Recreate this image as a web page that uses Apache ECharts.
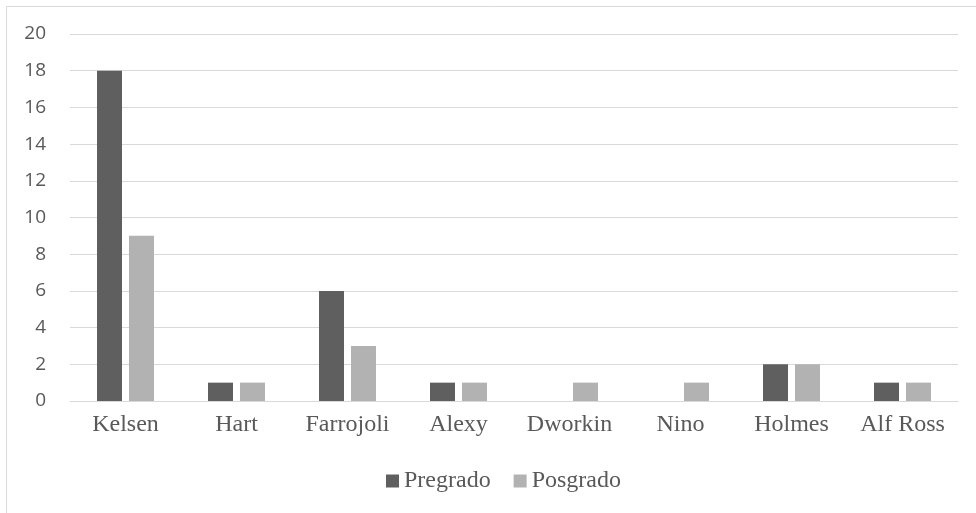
<!DOCTYPE html>
<html><head><meta charset="utf-8">
<script src="https://cdn.jsdelivr.net/npm/echarts@6/dist/echarts.min.js"></script>
<style>html,body{margin:0;padding:0;background:#fff}#c{width:976px;height:513px}</style>
</head><body><div id="c"></div>
<script>
const categories = ['Kelsen','Hart','Farrojoli','Alexy','Dworkin','Nino','Holmes','Alf Ross'];
const pregrado = [18,1,6,1,0,0,2,1];
const posgrado = [9,1,3,1,1,1,2,1];
const seriesNames = ['Pregrado','Posgrado'];

const chart = echarts.init(document.getElementById('c'));
chart.setOption({
  animation:false,
  graphic:[{type:'rect',shape:{x:6.5,y:6.5,width:990,height:520},style:{fill:'none',stroke:'#d9d9d9',lineWidth:1},silent:true}],
  legend:{top:469,left:386,padding:0,itemWidth:13,itemHeight:13,itemGap:23,icon:'rect',
    textStyle:{fontFamily:'Liberation Serif',fontSize:24,color:'#595959'},
    data:seriesNames},
  grid:{left:70,right:18,top:34,bottom:112},
  xAxis:{type:'category',data:categories,
    axisLine:{lineStyle:{color:'#d9d9d9',width:1}},axisTick:{show:false},
    axisLabel:{fontFamily:'Liberation Serif',fontSize:24,color:'#595959',margin:12}},
  yAxis:{type:'value',min:0,max:20,interval:2,
    axisLine:{show:false},axisTick:{show:false},
    splitLine:{lineStyle:{color:'#d9d9d9',width:1}},
    axisLabel:{fontFamily:'Open Sans',fontSize:19,color:'#595959',margin:24}},
  series:[
    {name:seriesNames[0],type:'bar',data:pregrado,barWidth:25,barGap:'28%',itemStyle:{color:'#5f5f5f'}},
    {name:seriesNames[1],type:'bar',data:posgrado,barWidth:25,itemStyle:{color:'#b2b2b2'}}
  ]
});
</script></body></html>
